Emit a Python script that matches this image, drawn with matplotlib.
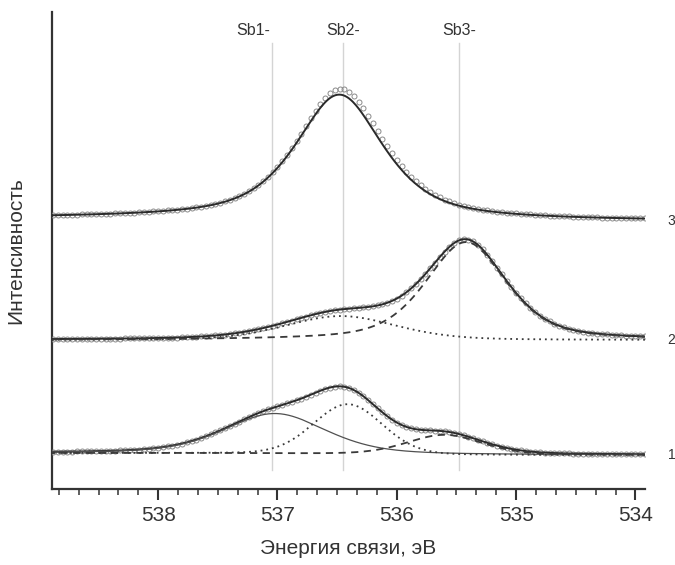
import numpy as np
import matplotlib.pyplot as plt
from matplotlib.ticker import MultipleLocator

plt.rcParams['font.family'] = ['Liberation Sans', 'DejaVu Sans']

# energy window of the scans (eV), drawn high -> low
e_left, e_right = 538.89, 533.92

# reference lines for the three oxygen states
state_names = ['Sb1-', 'Sb2-', 'Sb3-']
state_energy = [537.05, 536.45, 535.48]
state_label_x = [537.20, 536.45, 535.48]

# fitted peaks: centre (eV), height, FWHM (eV), Lorentzian fraction
fit1_centre = [537.02, 536.41, 535.60]
fit1_height = [40, 50, 20]
fit1_fwhm = [1.0, 0.68, 0.75]
fit1_eta = [0.4, 0.1, 0.3]
bg1 = (34, 36)      # background at low / high energy end

fit2_centre = [536.47, 535.42]
fit2_height = [24, 98]
fit2_fwhm = [1.1, 0.8]
fit2_eta = [0.3, 0.5]
bg2 = (149, 149)

fit3_centre = [536.48]
fit3_height = [125]
fit3_fwhm = [0.88]
fit3_eta = [0.7]
bg3 = (268, 271)

# measured points of spectrum 3 sit a little above the fit near the top
meas3_centre = [536.47]
meas3_height = [131]
meas3_fwhm = [0.88]
meas3_eta = [0.7]

curve_names = ['1', '2', '3']


def pvoigt(e, c, h, w, eta):
    g = np.exp(-4 * np.log(2) * ((e - c) / w) ** 2)
    l = 1 / (1 + 4 * ((e - c) / w) ** 2)
    return h * (eta * l + (1 - eta) * g)


def peaks(e, centre, height, fwhm, eta):
    return [pvoigt(e, *p) for p in zip(centre, height, fwhm, eta)]


def shirley(e, comps, bg):
    tot = np.sum(comps, axis=0)
    frac = np.cumsum(tot) / np.sum(tot)
    return bg[0] + (bg[1] - bg[0]) * frac


E = np.linspace(e_right, e_left, 600)
Ep = np.arange(e_right, e_left, 0.04)

fig = plt.figure(figsize=(6.75, 5.65), dpi=100)
ax = fig.add_axes([0.077, 0.1345, 0.8785, 0.844])

for x in state_energy:
    ax.plot([x, x], [19, 446], color='#d4d4d4', lw=1.0, zorder=0)
for name, x in zip(state_names, state_label_x):
    ax.text(x, 459, name, ha='center', va='center', fontsize=11.5, color='#333')

fit_kw = dict(color='#2a2a2a', lw=1.4, zorder=4)
pt_kw = dict(ls='none', marker='o', mfc='none', mec='#8a8a8a', ms=3.6, mew=0.7, zorder=3)
dot_kw = dict(color='#3a3a3a', lw=1.3, ls=(0, (1, 2.2)), zorder=5)
dash_kw = dict(color='#3a3a3a', lw=1.3, ls=(0, (4, 3)), zorder=5)
thin_kw = dict(color='#505050', lw=0.9, zorder=5)

# spectrum 1: three components
c1 = peaks(E, fit1_centre, fit1_height, fit1_fwhm, fit1_eta)
b1 = shirley(E, c1, bg1)
p1 = peaks(Ep, fit1_centre, fit1_height, fit1_fwhm, fit1_eta)
ax.plot(Ep, np.sum(p1, axis=0) + shirley(Ep, p1, bg1), **pt_kw)
ax.plot(E, np.sum(c1, axis=0) + b1, **fit_kw)
ax.plot(E, c1[0] + b1, **thin_kw)
ax.plot(E, c1[1] + b1, **dot_kw)
ax.plot(E, c1[2] + b1, **dash_kw)

# spectrum 2: Sb2 + Sb3
c2 = peaks(E, fit2_centre, fit2_height, fit2_fwhm, fit2_eta)
b2 = shirley(E, c2, bg2)
p2 = peaks(Ep, fit2_centre, fit2_height, fit2_fwhm, fit2_eta)
ax.plot(Ep, np.sum(p2, axis=0) + shirley(Ep, p2, bg2), **pt_kw)
ax.plot(E, np.sum(c2, axis=0) + b2, **fit_kw)
ax.plot(E, c2[0] + b2, **dot_kw)
ax.plot(E, c2[1] + b2, **dash_kw)

# spectrum 3: single line
c3 = peaks(E, fit3_centre, fit3_height, fit3_fwhm, fit3_eta)
b3 = shirley(E, c3, bg3)
m3 = peaks(Ep, meas3_centre, meas3_height, meas3_fwhm, meas3_eta)
ax.plot(Ep, np.sum(m3, axis=0) + shirley(Ep, m3, bg3), **pt_kw)
ax.plot(E, np.sum(c3, axis=0) + b3, **fit_kw)

for name, bg in zip(curve_names, [bg1, bg2, bg3]):
    ax.text(533.73, bg[0], name, ha='left', va='center', fontsize=10, color='#333',
            clip_on=False)

ax.set_xlim(e_left, e_right)
ax.set_ylim(0, 477)
ax.set_yticks([])
ax.xaxis.set_major_locator(MultipleLocator(1))
ax.xaxis.set_minor_locator(MultipleLocator(1 / 6))
ax.tick_params(axis='x', which='major', direction='out', length=8, width=1.5,
               labelsize=15, pad=4, colors='#333')
ax.tick_params(axis='x', which='minor', direction='out', length=4, width=1.1, colors='#333')
for s in ['top', 'right']:
    ax.spines[s].set_visible(False)
for s in ['left', 'bottom']:
    ax.spines[s].set_linewidth(1.6)
    ax.spines[s].set_color('#333')

ax.set_xlabel('Энергия связи, эВ', fontsize=15, color='#333', labelpad=10)
ax.set_ylabel('Интенсивность', fontsize=15, color='#333', labelpad=19)

fig.savefig('out.png', dpi=100)
